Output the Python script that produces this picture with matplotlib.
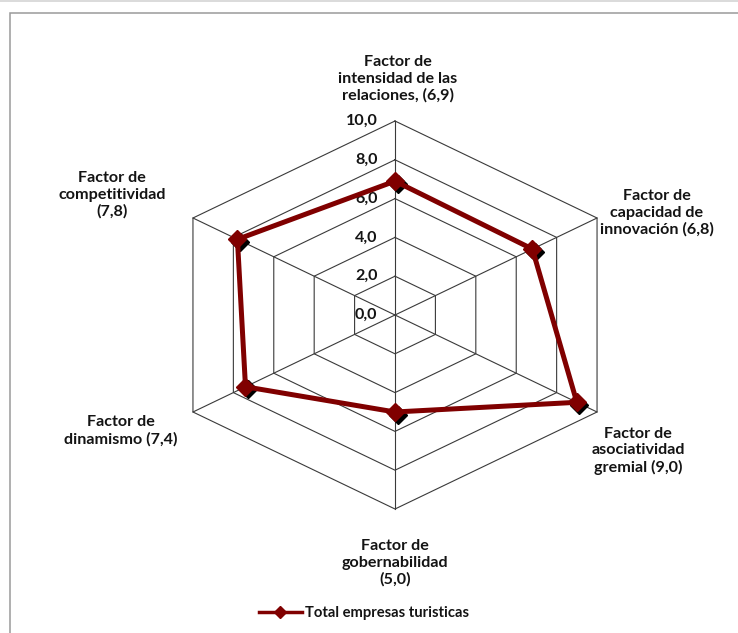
import numpy as np
import matplotlib
matplotlib.use("Agg")
import matplotlib.pyplot as plt
from matplotlib.patches import Rectangle
from matplotlib.lines import Line2D
import matplotlib.transforms as mtransforms

# Factor scores for tourist companies
categories = [
    "Factor de\nintensidad de las\nrelaciones, (6,9)",
    "Factor de\ncapacidad de\ninnovación (6,8)",
    "Factor de\nasociatividad\ngremial (9,0)",
    "Factor de\ngobernabilidad\n(5,0)",
    "Factor de\ndinamismo (7,4)",
    "Factor de\ncompetitividad\n(7,8)",
]
values = [6.9, 6.8, 9.0, 5.0, 7.4, 7.8]
ring_levels = [0, 2, 4, 6, 8, 10]
ring_labels = ["0,0", "2,0", "4,0", "6,0", "8,0", "10,0"]
series_name = "Total empresas turisticas"

W, H, DPI = 738, 633, 100
fig = plt.figure(figsize=(W / DPI, H / DPI), dpi=DPI)
fig.patch.set_facecolor("white")

# centre of the web in pixels (from top-left) and pixel scale per unit
cx, cy = 395.0, 315.0
sx, sy = 23.33, 19.4

ax = fig.add_axes([0, 0, 1, 1])
ax.set_xlim(-cx / sx, (W - cx) / sx)
ax.set_ylim(-(H - cy) / sy, cy / sy)
ax.axis("off")

FONT = "Lato"
FS = 11.6
DARK_RED = "#800000"
TEXT_COLOR = "#141414"

n = len(values)
angles = np.deg2rad(90 - 360 / n * np.arange(n))

def to_xy(r, a):
    return r * np.cos(a), r * np.sin(a)

# hexagonal grid rings
rmax = ring_levels[-1]
for lev in ring_levels[1:]:
    xs, ys = to_xy(lev, np.append(angles, angles[0]))
    ax.plot(xs, ys, color="#3a3a3a", lw=0.8, zorder=1)
# spokes
for a in angles:
    x, y = to_xy(rmax, a)
    ax.plot([0, x], [0, y], color="#3a3a3a", lw=0.8, zorder=1)

# value labels along the top spoke
for lev, lab in zip(ring_levels, ring_labels):
    ax.text(-0.75, lev, lab, ha="right", va="center", fontsize=FS,
            fontweight="bold", family=FONT, color=TEXT_COLOR, zorder=3)

# data series
vx, vy = to_xy(np.array(values), angles)
vx = np.append(vx, vx[0])
vy = np.append(vy, vy[0])
shadow = mtransforms.offset_copy(ax.transData, fig=fig, x=2.6, y=-2.6, units="dots")
ax.plot(vx[:-1], vy[:-1], ls="none", marker="D", ms=9, color="black",
        transform=shadow, zorder=4)
ax.plot(vx, vy, color=DARK_RED, lw=3.6, zorder=5, solid_joinstyle="miter")
ax.plot(vx[:-1], vy[:-1], ls="none", marker="D", ms=9, color=DARK_RED, zorder=6)

# category labels (pixel centres)
label_pos = [(398, 79), (657, 213), (638, 451), (395, 563), (121, 431), (112, 195)]
for text, (px, py) in zip(categories, label_pos):
    fig.text(px / W, 1 - py / H, text, ha="center", va="center", fontsize=FS,
             fontweight="bold", family=FONT, color=TEXT_COLOR, linespacing=1.22)

# legend
handle = Line2D([], [], color=DARK_RED, lw=2.5, marker="D", ms=6)
leg = fig.legend([handle], [series_name], loc="center",
                 bbox_to_anchor=(364 / W, 1 - 613 / H), frameon=False,
                 handlelength=2.9, handletextpad=0.25,
                 prop={"family": FONT, "weight": "bold", "size": 10.6})
for t in leg.get_texts():
    t.set_color(TEXT_COLOR)

# chart frame
fig.add_artist(Line2D([0, 1], [1 - 0.8 / H, 1 - 0.8 / H], color="#d4d4d4", lw=1.2,
                      transform=fig.transFigure))
fig.add_artist(Rectangle((9.5 / W, -0.1), 1.2, 1 - 13.5 / H + 0.1,
                         transform=fig.transFigure, fill=False,
                         edgecolor="#9a9a9a", lw=1.1))

fig.savefig("out.png", dpi=DPI)
